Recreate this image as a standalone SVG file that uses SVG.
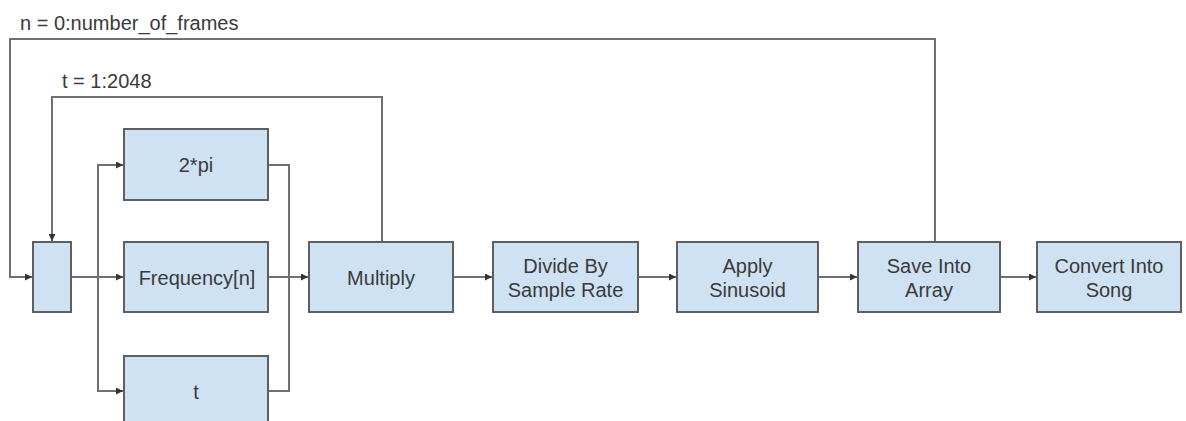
<svg xmlns="http://www.w3.org/2000/svg" width="1186" height="421" viewBox="0 0 1186 421">
<defs>
<style>
.box{fill:#cfe2f3;stroke:#5f5f5f;stroke-width:2}
.lbl{font-family:"Liberation Sans",Arial,sans-serif;font-size:20px;fill:#3a3a3a;text-anchor:middle}
.top{font-family:"Liberation Sans",Arial,sans-serif;font-size:20px;fill:#3a3a3a}
.c{fill:none;stroke:#707070;stroke-width:2}
</style>
<marker id="ah" viewBox="0 0 10 10" refX="10" refY="5" markerWidth="7" markerHeight="7" markerUnits="userSpaceOnUse" orient="auto">
<path d="M0,0 L10,5 L0,10 z" fill="#333"/>
</marker>
</defs>
<rect width="1186" height="421" fill="#fff"/>
<text class="top" x="20" y="30">n = 0:number_of_frames</text>
<text class="top" x="62" y="88">t = 1:2048</text>
<g id="connectors">
<path class="c" d="M935,242 V39 H10 V277 H32" marker-end="url(#ah)"/>
<path class="c" d="M382,242 V97 H52 V241" marker-end="url(#ah)"/>
<path class="c" d="M71,277 H123" marker-end="url(#ah)"/>
<path class="c" d="M98,277 V165 H123" marker-end="url(#ah)"/>
<path class="c" d="M98,277 V391 H123" marker-end="url(#ah)"/>
<path class="c" d="M268,165 H289 V391 H268"/>
<path class="c" d="M268,277 H308" marker-end="url(#ah)"/>
<path class="c" d="M453,277 H492" marker-end="url(#ah)"/>
<path class="c" d="M638,277 H676" marker-end="url(#ah)"/>
<path class="c" d="M818,277 H857" marker-end="url(#ah)"/>
<path class="c" d="M1000,277 H1036" marker-end="url(#ah)"/>
</g>
<g id="loop"><rect class="box" x="33" y="242" width="38" height="70"/></g>
<g id="twopi"><rect class="box" x="124" y="129" width="144" height="71"/><text class="lbl" x="196" y="172">2*pi</text></g>
<g id="freq"><rect class="box" x="124" y="242" width="144" height="70"/><text class="lbl" x="197" y="285">Frequency[n]</text></g>
<g id="tnode"><rect class="box" x="124" y="356" width="144" height="71"/><text class="lbl" x="196" y="399">t</text></g>
<g id="multiply"><rect class="box" x="309" y="242" width="144" height="70"/><text class="lbl" x="381" y="285">Multiply</text></g>
<g id="divide"><rect class="box" x="493" y="242" width="145" height="70"/><text class="lbl" x="565.5" y="273">Divide By</text><text class="lbl" x="565.5" y="297">Sample Rate</text></g>
<g id="sinusoid"><rect class="box" x="677" y="242" width="141" height="70"/><text class="lbl" x="747.5" y="273">Apply</text><text class="lbl" x="747.5" y="297">Sinusoid</text></g>
<g id="save"><rect class="box" x="858" y="242" width="142" height="70"/><text class="lbl" x="929" y="273">Save Into</text><text class="lbl" x="929" y="297">Array</text></g>
<g id="song"><rect class="box" x="1037" y="242" width="144" height="70"/><text class="lbl" x="1109" y="273">Convert Into</text><text class="lbl" x="1109" y="297">Song</text></g>
</svg>
